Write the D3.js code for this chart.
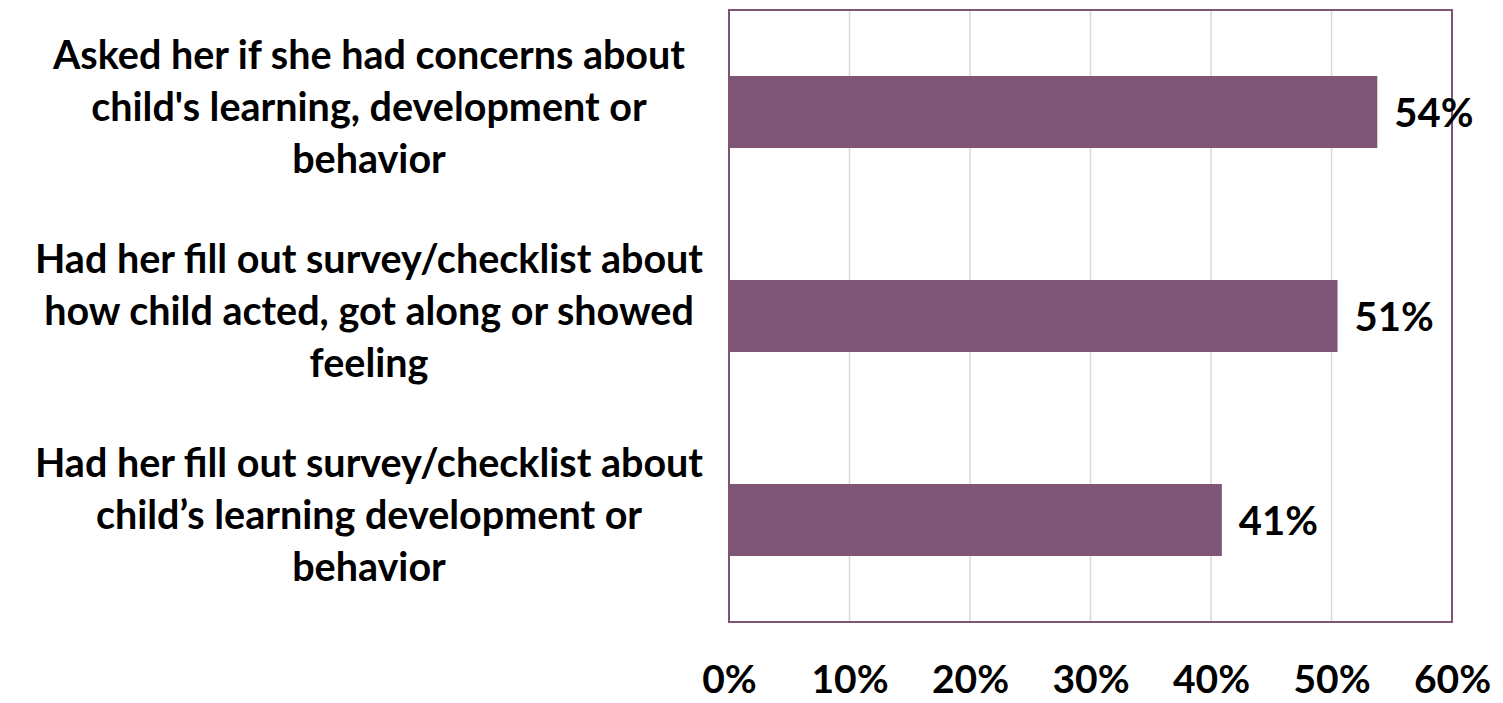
<!DOCTYPE html>
<html><head><meta charset="utf-8">
<script src="https://cdn.jsdelivr.net/npm/d3@7"></script>
<style>body{margin:0;background:#fff}svg{display:block}</style>
</head><body>
<svg id="c" width="1503" height="703"></svg>
<script>
const categories = [
  ["Asked her if she had concerns about", "child's learning, development or", "behavior"],
  ["Had her fill out survey/checklist about", "how child acted, got along or showed", "feeling"],
  ["Had her fill out survey/checklist about", "child\u2019s learning development or", "behavior"]
];
const values = [0.538, 0.505, 0.409];
const valueLabels = ["54%", "51%", "41%"];
const ticks = [0, 0.1, 0.2, 0.3, 0.4, 0.5, 0.6];
const tickLabels = ["0%", "10%", "20%", "30%", "40%", "50%", "60%"];

const svg = d3.select("#c");
const pLeft = 729, pRight = 1452, pTop = 10, pBottom = 622;
const x = d3.scaleLinear().domain([0, 0.6]).range([pLeft, pRight]);
const y = d3.scaleBand().domain(d3.range(categories.length)).range([pTop, pBottom]).paddingInner(0.647).paddingOuter(0.3235);
const purple = "#7E5575";
const font = "Lato, 'Open Sans', sans-serif";

// gridlines
svg.append("g").selectAll("line").data(ticks.slice(1, -1)).join("line")
  .attr("x1", d => x(d)).attr("x2", d => x(d)).attr("y1", pTop).attr("y2", pBottom)
  .attr("stroke", "#d9d9d9").attr("stroke-width", 1.5);

// bars
svg.append("g").selectAll("rect").data(values).join("rect")
  .attr("x", x(0)).attr("y", (d, i) => y(i)).attr("width", d => x(d) - x(0)).attr("height", y.bandwidth())
  .attr("fill", purple);

// border
svg.append("rect").attr("x", pLeft).attr("y", pTop).attr("width", pRight - pLeft).attr("height", pBottom - pTop)
  .attr("fill", "none").attr("stroke", purple).attr("stroke-width", 2);

// value labels
svg.append("g").selectAll("text").data(values).join("text")
  .attr("x", d => x(d) + 17).attr("y", (d, i) => y(i) + y.bandwidth() / 2 + 15)
  .attr("font-family", font).attr("font-weight", 700).attr("font-size", 40).attr("fill", "#000")
  .text((d, i) => valueLabels[i]);

// x tick labels
const xAxis = d3.axisBottom(x).tickValues(ticks).tickFormat((d, i) => tickLabels[i]).tickSize(0).tickPadding(0);
const ax = svg.append("g").attr("transform", `translate(0,${pBottom})`).call(xAxis);
ax.select(".domain").remove();
ax.selectAll("text").attr("y", 71).attr("dy", 0).attr("font-family", font).attr("font-weight", 700).attr("font-size", 39).attr("fill", "#000");

// category labels
const lab = svg.append("g").selectAll("text").data(categories).join("text")
  .attr("text-anchor", "middle").attr("font-family", font).attr("font-weight", 700).attr("font-size", 39.5).attr("fill", "#000");
lab.each(function(lines, i) {
  const cy = y(i) + y.bandwidth() / 2;
  d3.select(this).selectAll("tspan").data(lines).join("tspan")
    .attr("x", 369).attr("y", (d, j) => cy + 9 + (j - 1) * 52).text(d => d);
});
</script>
</body></html>
